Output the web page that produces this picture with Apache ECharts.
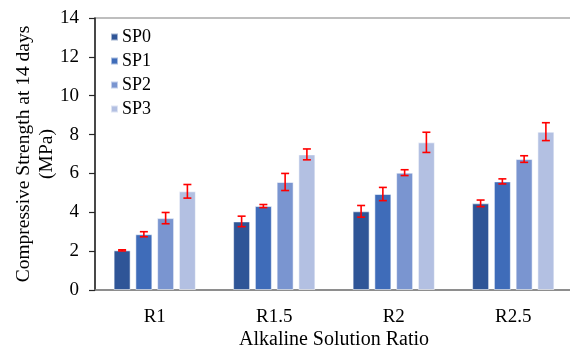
<!DOCTYPE html>
<html>
<head>
<meta charset="utf-8">
<script src="https://cdn.jsdelivr.net/npm/echarts@6/dist/echarts.min.js"></script>
<style>
  html, body { margin: 0; padding: 0; background: #fff; }
  #chart { width: 570px; height: 349px; }
</style>
</head>
<body>
<div id="chart"></div>
<script>
// Alkaline solution ratios on the x axis
const categories = ['R1', 'R1.5', 'R2', 'R2.5'];
const seriesNames = ['SP0', 'SP1', 'SP2', 'SP3'];

// Mean 14-day compressive strength (MPa)
const sp0 = [2.04, 3.53, 4.05, 4.46];
const sp1 = [2.87, 4.32, 4.94, 5.59];
const sp2 = [3.70, 5.56, 6.04, 6.74];
const sp3 = [5.08, 6.98, 7.60, 8.15];

// Standard deviations (MPa)
const sp0Err = [0.03, 0.27, 0.30, 0.17];
const sp1Err = [0.13, 0.08, 0.34, 0.13];
const sp2Err = [0.29, 0.44, 0.15, 0.17];
const sp3Err = [0.35, 0.28, 0.52, 0.46];

const yTicks = [0, 2, 4, 6, 8, 10, 12, 14];

const means = [sp0, sp1, sp2, sp3];
const errs = [sp0Err, sp1Err, sp2Err, sp3Err];
const colors = ['#2F5597', '#3F6CB9', '#7A95D0', '#B3C0E2'];

const FONT = '"Liberation Serif", "Times New Roman", serif';
const BAR_W = 17;
const BAR_GAP = 0.28;

const chart = echarts.init(document.getElementById('chart'), null, { renderer: 'canvas' });

const barSeries = seriesNames.map((name, i) => ({
  name: name,
  type: 'bar',
  barWidth: BAR_W,
  barGap: (BAR_GAP * 100) + '%',
  data: means[i],
  itemStyle: { color: colors[i], borderColor: 'rgba(255,255,255,0.55)', borderWidth: 1 },
  z: 2
}));

// Error bars drawn centred on each bar of the group
const errSeries = seriesNames.map((name, i) => ({
  name: name + ' error',
  type: 'custom',
  z: 5,
  data: categories.map((c, k) => [k, means[i][k] - errs[i][k], means[i][k] + errs[i][k]]),
  renderItem: function (params, api) {
    const k = api.value(0);
    const lo = api.coord([k, api.value(1)]);
    const hi = api.coord([k, api.value(2)]);
    const step = BAR_W * (1 + BAR_GAP);
    const x = lo[0] + (i - 1.5) * step;
    const cap = 4;
    const style = { stroke: '#FF0000', lineWidth: 1.6 };
    return {
      type: 'group',
      children: [
        { type: 'line', shape: { x1: x, y1: lo[1], x2: x, y2: hi[1] }, style: style },
        { type: 'line', shape: { x1: x - cap, y1: lo[1], x2: x + cap, y2: lo[1] }, style: style },
        { type: 'line', shape: { x1: x - cap, y1: hi[1], x2: x + cap, y2: hi[1] }, style: style }
      ]
    };
  },
  encode: { x: 0, y: [1, 2] },
  silent: true
}));

chart.setOption({
  animation: false,
  backgroundColor: '#ffffff',
  grid: {
    left: 95, top: 18, width: 478, bottom: 59,
    containLabel: false, outerBoundsMode: 'none',
    show: true, borderColor: '#7f7f7f', borderWidth: 1.2, backgroundColor: 'transparent'
  },
  legend: {
    data: seriesNames,
    orient: 'vertical',
    left: 110, top: 28, padding: 0,
    itemWidth: 7, itemHeight: 7, itemGap: 6,
    icon: 'rect',
    textStyle: { fontFamily: FONT, fontSize: 18, color: '#000', padding: [0, 0, 0, -1] }
  },
  xAxis: {
    type: 'category',
    data: categories,
    name: 'Alkaline Solution Ratio',
    nameLocation: 'middle',
    nameGap: 40,
    nameMoveOverlap: false,
    nameTextStyle: { fontFamily: FONT, fontSize: 20, color: '#000' },
    axisLine: { lineStyle: { color: '#7f7f7f', width: 1.5 } },
    axisTick: { show: false },
    axisLabel: { fontFamily: FONT, fontSize: 19, color: '#000', margin: 18 }
  },
  yAxis: {
    type: 'value',
    min: 0, max: 14, interval: 2,
    name: 'Compressive Strength at 14 days\n(MPa)',
    nameLocation: 'middle',
    nameRotate: 90,
    nameGap: 37,
    nameMoveOverlap: false,
    nameTextStyle: { fontFamily: FONT, fontSize: 19.5, color: '#000', lineHeight: 23 },
    axisLine: { show: true, lineStyle: { color: '#262626', width: 1.5 } },
    axisTick: { show: true, length: 6, lineStyle: { color: '#262626', width: 1.2 } },
    axisLabel: {
      fontFamily: FONT, fontSize: 19, color: '#000', margin: 16,
      formatter: v => (yTicks.indexOf(v) >= 0 ? String(v) : '')
    },
    splitLine: { show: false }
  },
  series: barSeries.concat(errSeries)
});
</script>
</body>
</html>
